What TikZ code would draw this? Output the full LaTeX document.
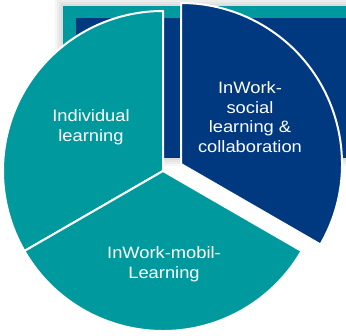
\documentclass[tikz,border=0pt]{standalone}
\usepackage{fontspec}
\newfontfamily\slicefont[FakeStretch=1.11]{Liberation Sans}
\definecolor{inworkteal}{RGB}{0,154,158}
\definecolor{inworkblue}{RGB}{0,57,128}
\begin{document}
\begin{tikzpicture}[line cap=round,line join=round,x=1pt,y=1pt,
        slice/.style={draw=white,line width=2pt},
        slicetext/.style={text=white,align=center,inner sep=0pt,font=\slicefont\fontsize{16.5}{19.5}\selectfont}]
        \useasboundingbox (0,0) rectangle (346,336);
        \clip (0,0) rectangle (346,336);
        \foreach \s in {8,6,4,2}
            \fill [black,opacity=0.035] (63-\s,178-\s) rectangle (360,330+\s);
        \fill [inworkteal] (63,178) rectangle (360,330);
        \fill [inworkblue] (76,178) rectangle (360,318);
        \coordinate (pie) at (163,165);
        \coordinate (social) at (181,172);
        \filldraw [slice,fill=inworkblue] (social) -- ++(-30:161) arc[start angle=-30,end angle=90,radius=161] -- cycle;
        \filldraw [slice,fill=inworkteal] (pie) -- ++(90:160) arc[start angle=90,end angle=210,radius=160] -- cycle;
        \filldraw [slice,fill=inworkteal] (pie) -- ++(210:160) arc[start angle=210,end angle=330,radius=160] -- cycle;
        \node [slicetext] (individual) at (91,209) {Individual\\learning};
        \node [slicetext] (mobil) at (164,72) {InWork-mobil-\\Learning};
        \node [slicetext] (collab) at (250,219) {InWork-\\social\\learning \&\\collaboration};
    \end{tikzpicture}
\end{document}
